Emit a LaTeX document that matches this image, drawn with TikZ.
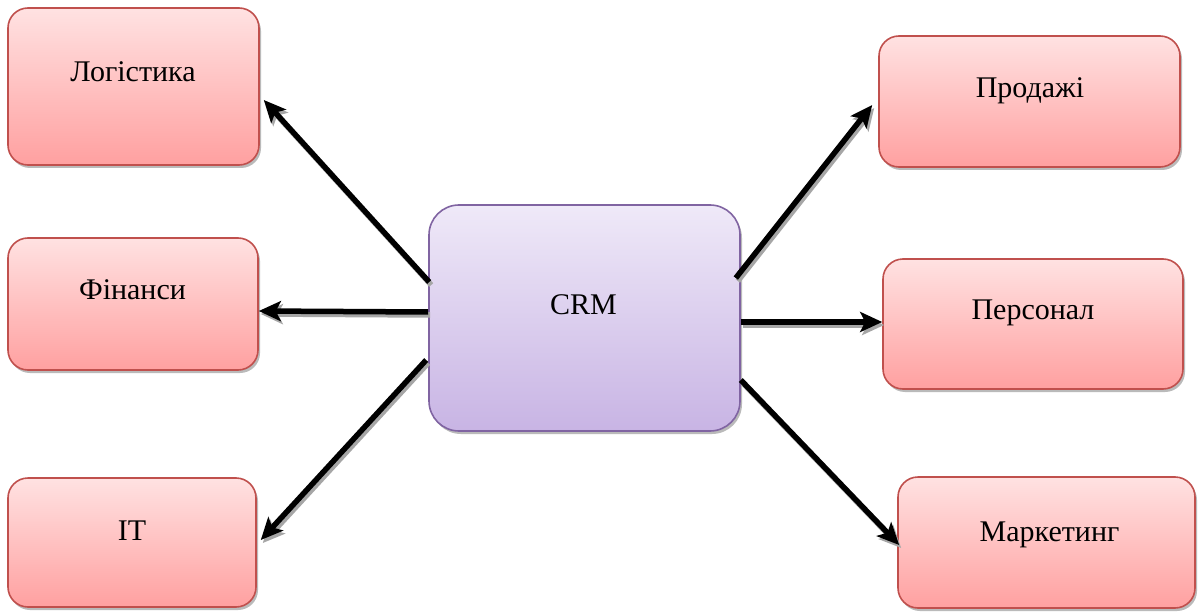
\documentclass[tikz,border=0pt]{standalone}
\usepackage{fontspec}
\setmainfont{Liberation Serif}
\usetikzlibrary{arrows.meta,calc,shadows}
\definecolor{redtop}{RGB}{255,226,226}
\definecolor{redbot}{RGB}{255,160,160}
\definecolor{redline}{RGB}{192,80,77}
\definecolor{violtop}{RGB}{239,233,248}
\definecolor{violbot}{RGB}{200,180,228}
\definecolor{violline}{RGB}{128,100,162}
\begin{document}
\begin{tikzpicture}[x=1pt,y=-1pt,
 box/.style={rectangle, rounded corners=20pt, line width=1.6pt, inner sep=0pt,
   drop shadow={shadow xshift=2pt, shadow yshift=-3pt, opacity=0.45, fill=black!60}},
 redbox/.style={box, draw=redline, top color=redtop, bottom color=redbot},
 crmbox/.style={box, rounded corners=30pt, draw=violline, top color=violtop, bottom color=violbot},
 lbl/.style={anchor=base, font=\fontsize{30}{34}\selectfont, inner sep=0pt},
 conn/.style={line width=5.5pt, -{Stealth[length=22pt,width=20pt,inset=5pt]}},
 connshadow/.style={conn, draw=black!35, transform canvas={shift={(2pt,-3pt)}}}
]
\fill[white] (0,0) rectangle (1198,612);
\useasboundingbox (0,0) rectangle (1198,612);

\node[redbox, minimum width=251pt, minimum height=157pt] (log) at (133.5,86.5) {};
\node[redbox, minimum width=250pt, minimum height=132pt] (fin) at (133,304) {};
\node[redbox, minimum width=248pt, minimum height=129pt] (it) at (132,542.5) {};
\node[redbox, minimum width=301pt, minimum height=131pt] (prod) at (1029.5,101.5) {};
\node[redbox, minimum width=300pt, minimum height=130pt] (pers) at (1033,324) {};
\node[redbox, minimum width=297pt, minimum height=131pt] (mark) at (1046.5,542.5) {};
\node[crmbox, minimum width=311pt, minimum height=226pt] (crm) at (584.5,318) {};

\node[lbl] (logt) at (133,82) {Логістика};
\node[lbl] (fint) at (132.5,299) {Фінанси};
\node[lbl] (itt) at (132,540) {IT};
\node[lbl] (prodt) at (1030,98) {Продажі};
\node[lbl] (perst) at (1033,319) {Персонал};
\node[lbl] (markt) at (1049.5,541) {Маркетинг};
\node[lbl] (crmt) at (583.5,314) {CRM};

\draw[connshadow] ($(crm.west)+(1,-36)$) -- ($(log.east)+(4,13.5)$);
\draw[connshadow] ($(crm.west)+(0,-6)$) -- ($(fin.east)+(0,7)$);
\draw[connshadow] ($(crm.west)+(-2,42)$) -- ($(it.east)+(4,-2.5)$);
\draw[connshadow] ($(crm.east)+(-5,-40)$) -- ($(prod.west)+(-6,3.5)$);
\draw[connshadow] ($(crm.east)+(0,4)$) -- ($(pers.west)+(0,-2)$);
\draw[connshadow] ($(crm.east)+(0,62)$) -- ($(mark.west)+(2,2.5)$);

\draw[conn] ($(crm.west)+(1,-36)$) -- ($(log.east)+(4,13.5)$);
\draw[conn] ($(crm.west)+(0,-6)$) -- ($(fin.east)+(0,7)$);
\draw[conn] ($(crm.west)+(-2,42)$) -- ($(it.east)+(4,-2.5)$);
\draw[conn] ($(crm.east)+(-5,-40)$) -- ($(prod.west)+(-6,3.5)$);
\draw[conn] ($(crm.east)+(0,4)$) -- ($(pers.west)+(0,-2)$);
\draw[conn] ($(crm.east)+(0,62)$) -- ($(mark.west)+(2,2.5)$);
\end{tikzpicture}
\end{document}
